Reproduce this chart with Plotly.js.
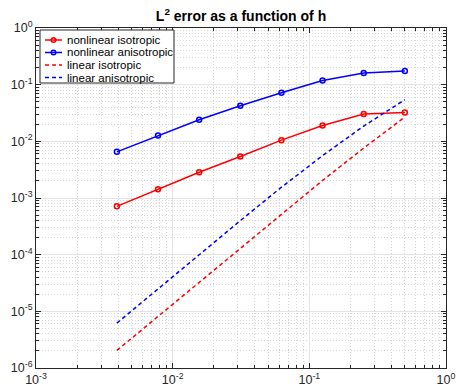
<!DOCTYPE html>
<html>
<head>
<meta charset="utf-8">
<script src="https://cdn.plot.ly/plotly-3.0.1.min.js"></script>
<style>html,body{margin:0;padding:0;background:#fff;}#chart{width:457px;height:388px;}</style>
</head>
<body>
<div id="chart"></div>
<script>
const h = [0.00390625, 0.0078125, 0.015625, 0.03125, 0.0625, 0.125, 0.25, 0.5];
const nonlinIso = [0.000713, 0.001426, 0.00285, 0.00539, 0.0105, 0.019, 0.0303, 0.0324];
const nonlinAniso = [0.00652, 0.01267, 0.0240, 0.0425, 0.0722, 0.118, 0.161, 0.175];
const linIso = [2.04e-6, 8.1e-6, 3.24e-5, 1.29e-4, 5.1e-4, 2.04e-3, 7.6e-3, 2.68e-2];
const linAniso = [6.2e-6, 2.5e-5, 1.02e-4, 3.98e-4, 1.55e-3, 5.6e-3, 1.86e-2, 5.43e-2];
const seriesNames = ['nonlinear isotropic', 'nonlinear anisotropic', 'linear isotropic', 'linear anisotropic'];
const xTickVals = [0.001, 0.01, 0.1, 1];
const xTickText = ['10<sup>-3</sup>', '10<sup>-2</sup>', '10<sup>-1</sup>', '10<sup>0</sup>'];
const yTickVals = [1e-6, 1e-5, 1e-4, 1e-3, 1e-2, 1e-1, 1];
const yTickText = ['10<sup>-6</sup>', '10<sup>-5</sup>', '10<sup>-4</sup>', '10<sup>-3</sup>', '10<sup>-2</sup>', '10<sup>-1</sup>', '10<sup>0</sup>'];

const RED = '#ff0000', BLUE = '#0000ff', AX = '#262626';
const FONT = 'Liberation Sans, Arial, Helvetica, sans-serif';
const DASH = '4px,3px';

const styles = [
  {color: RED, dash: 'solid', marker: true},
  {color: BLUE, dash: 'solid', marker: true},
  {color: RED, dash: DASH, marker: false},
  {color: BLUE, dash: DASH, marker: false}
];
const ys = [nonlinIso, nonlinAniso, linIso, linAniso];

const traces = ys.map((y, i) => {
  const s = styles[i];
  const t = {x: h, y: y, name: seriesNames[i], type: 'scatter', mode: s.marker ? 'lines+markers' : 'lines',
             line: {color: s.color, width: 1.5, dash: s.dash}, showlegend: false};
  if (s.marker) t.marker = {symbol: 'circle-open', size: 5, color: s.color, line: {width: 1.5, color: s.color}};
  return t;
});

// plot area in pixels
const M = {l: 36, r: 11, t: 28, b: 20};
const W = 457, H = 388;
const PW = W - M.l - M.r, PH = H - M.t - M.b;
const px = x => (x - M.l) / PW;
const py = y => (H - M.b - y) / PH;

// custom legend (MATLAB style, compact)
const leg = {x0: 40, y0: 30, x1: 174, y1: 83, row0: 40, rowStep: 12.5, lx0: 45, lx1: 62, tx: 65};
const shapes = [{type: 'rect', xref: 'paper', yref: 'paper', x0: px(leg.x0), x1: px(leg.x1), y0: py(leg.y0), y1: py(leg.y1),
                 line: {color: AX, width: 1}, fillcolor: '#fff', layer: 'above'}];
const annotations = [];
seriesNames.forEach((name, i) => {
  const s = styles[i];
  const cy = leg.row0 + i * leg.rowStep;
  shapes.push({type: 'line', xref: 'paper', yref: 'paper', x0: px(leg.lx0), x1: px(leg.lx1), y0: py(cy), y1: py(cy),
               line: {color: s.color, width: 1.5, dash: s.dash}, layer: 'above'});
  if (s.marker) {
    const cx = (leg.lx0 + leg.lx1) / 2, r = 2.3;
    shapes.push({type: 'circle', xref: 'paper', yref: 'paper', x0: px(cx - r), x1: px(cx + r), y0: py(cy + r), y1: py(cy - r),
                 line: {color: s.color, width: 1.5}, fillcolor: 'rgba(0,0,0,0)', layer: 'above'});
  }
  annotations.push({xref: 'paper', yref: 'paper', x: px(leg.tx), y: py(cy), xanchor: 'left', yanchor: 'middle',
                    text: name, showarrow: false, font: {family: FONT, size: 11.5, color: '#000'}});
});

function axis(range, vals, text) {
  return {
    type: 'log', range: range, autorange: false,
    tickmode: 'array', tickvals: vals, ticktext: text,
    ticks: 'inside', ticklen: 5, tickwidth: 1, tickcolor: AX,
    showline: true, linecolor: AX, linewidth: 1, mirror: 'allticks',
    showgrid: true, gridcolor: '#e4e4e4', gridwidth: 1,
    zeroline: false,
    tickfont: {family: FONT, size: 12.5, color: AX},
    minor: {dtick: 'D1', ticks: 'inside', ticklen: 3, tickcolor: AX, showgrid: true, gridcolor: '#d6d6d6', griddash: '1px,2px', gridwidth: 1}
  };
}

const layout = {
  width: W, height: H,
  margin: {l: M.l, r: M.r, t: M.t, b: M.b, pad: 0},
  paper_bgcolor: '#fff', plot_bgcolor: '#fff',
  title: {text: '<b>L<sup>2</sup> error as a function of h</b>', font: {family: FONT, size: 14, color: '#000'},
          x: 0.5, xref: 'paper', y: 1 - 16/388, yref: 'container', yanchor: 'middle'},
  xaxis: axis([-3, 0], xTickVals, xTickText),
  yaxis: axis([-6, 0], yTickVals, yTickText),
  showlegend: false,
  shapes: shapes,
  annotations: annotations
};

Plotly.newPlot('chart', traces, layout, {displayModeBar: false, staticPlot: true});
</script>
</body>
</html>
